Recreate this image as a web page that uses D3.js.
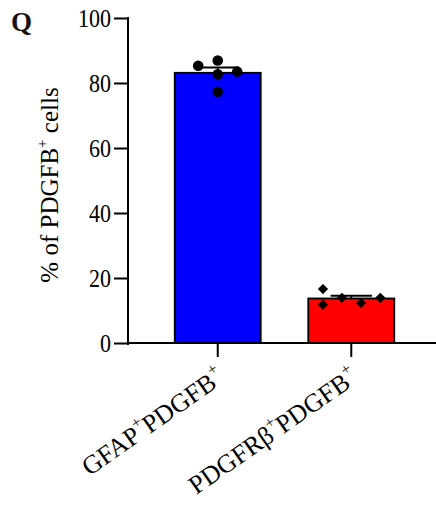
<!DOCTYPE html>
<html>
<head>
<meta charset="utf-8">
<script src="https://cdn.jsdelivr.net/npm/d3@7"></script>
<style>
  body { margin: 0; background: #fff; }
  svg text { font-family: "Liberation Serif", "Times New Roman", serif; }
</style>
</head>
<body>
<div id="chart"></div>
<script>
// groups and individual points
const groups = ["GFAP", "PDGFRβ"];
const colors = ["#0000ff", "#ff0000"];
const shapes = ["circle", "diamond"];
const gfapPoints = [85.3, 86.9, 83.5, 82.7, 77.3];
const pdgfrbPoints = [16.6, 11.8, 13.9, 12.3, 13.9];
const pointOffsets = [[-1, 0, 1, 0, 0], [-1.45, -1.45, -0.48, 0.5, 1.49]]; // jitter, in spread units
const yTicks = [0, 20, 40, 60, 80, 100];

const W = 436, H = 505;

const svg = d3.select("#chart").append("svg")
    .attr("width", W)
    .attr("height", H);

const y = d3.scaleLinear().domain([0, 100]).range([343, 18]);
const x = d3.scaleBand().domain(groups).range([128, 441]).paddingInner(0.356).paddingOuter(0.35);

const data = [gfapPoints, pdgfrbPoints].map((pts, i) => {
    const mean = d3.mean(pts);
    const sem = d3.deviation(pts) / Math.sqrt(pts.length);
    return { name: groups[i], pts, mean, sem, color: colors[i], shape: shapes[i], offs: pointOffsets[i] };
});

// bars
svg.append("g").selectAll("rect")
    .data(data)
    .enter().append("rect")
    .attr("x", d => x(d.name))
    .attr("y", d => y(d.mean))
    .attr("width", x.bandwidth())
    .attr("height", d => y(0) - y(d.mean))
    .attr("fill", d => d.color)
    .attr("stroke", "#000")
    .attr("stroke-width", 1.8);

// error bars (mean + SEM)
const eb = svg.append("g").attr("stroke", "#000").attr("stroke-width", 1.8);
data.forEach(d => {
    const cx = x(d.name) + x.bandwidth() / 2;
    const hw = x.bandwidth() * 0.24;
    eb.append("line").attr("x1", cx).attr("x2", cx).attr("y1", y(d.mean)).attr("y2", y(d.mean + d.sem));
    eb.append("line").attr("x1", cx - hw).attr("x2", cx + hw).attr("y1", y(d.mean + d.sem)).attr("y2", y(d.mean + d.sem));
});

// points
const circleSym = d3.symbol().type(d3.symbolCircle).size(88);
const diamondSym = d3.symbol().type(d3.symbolSquare).size(52);
data.forEach(d => {
    const cx = x(d.name) + x.bandwidth() / 2;
    const spread = x.bandwidth() * 0.227;
    svg.append("g").selectAll("path")
        .data(d.pts)
        .enter().append("path")
        .attr("d", d.shape === "circle" ? circleSym : diamondSym)
        .attr("transform", (v, j) => `translate(${cx + d.offs[j] * spread},${y(v)})` + (d.shape === "diamond" ? " rotate(45)" : ""))
        .attr("fill", "#000");
});

// y axis
const yAxis = svg.append("g")
    .attr("transform", "translate(128,0)")
    .call(d3.axisLeft(y).tickValues(yTicks).tickSize(14).tickPadding(3));
yAxis.select(".domain").attr("d", "M0,17V345").attr("stroke-width", 2);
yAxis.selectAll(".tick line").attr("stroke-width", 2);
yAxis.selectAll(".tick text")
    .attr("font-size", 25)
    .attr("fill", "#000")
    .attr("transform", "translate(-17,0) scale(0.88,1) translate(17,0)");

// x axis
const xAxis = svg.append("g")
    .attr("transform", "translate(0,343)")
    .call(d3.axisBottom(x).tickSize(14).tickFormat(""));
xAxis.select(".domain").attr("d", "M127,0H436").attr("stroke-width", 2);
xAxis.selectAll(".tick line").attr("stroke-width", 2);

// category labels, rotated
xAxis.selectAll(".tick").append("text")
    .attr("transform", "translate(8,38) rotate(-35)")
    .attr("text-anchor", "end")
    .attr("fill", "#000")
    .attr("font-size", 26)
    .each(function(name) {
        const t = d3.select(this);
        t.append("tspan").text(name);
        t.append("tspan").attr("dy", -12).attr("font-size", 16).text("+");
        t.append("tspan").attr("dy", 12).text("PDGFB");
        t.append("tspan").attr("dy", -12).attr("font-size", 16).text("+");
    });

// y axis title
const yt = svg.append("text")
    .attr("transform", "translate(58,185) rotate(-90)")
    .attr("text-anchor", "middle")
    .attr("font-size", 25)
    .attr("fill", "#000");
yt.append("tspan").text("% of PDGFB");
yt.append("tspan").attr("dy", -11).attr("font-size", 15).text("+");
yt.append("tspan").attr("dy", 11).text(" cells");

// panel letter
svg.append("text")
    .attr("x", 11)
    .attr("y", 31)
    .attr("font-size", 27)
    .attr("font-weight", "bold")
    .attr("fill", "#1a1010")
    .text("Q");
</script>
</body>
</html>
